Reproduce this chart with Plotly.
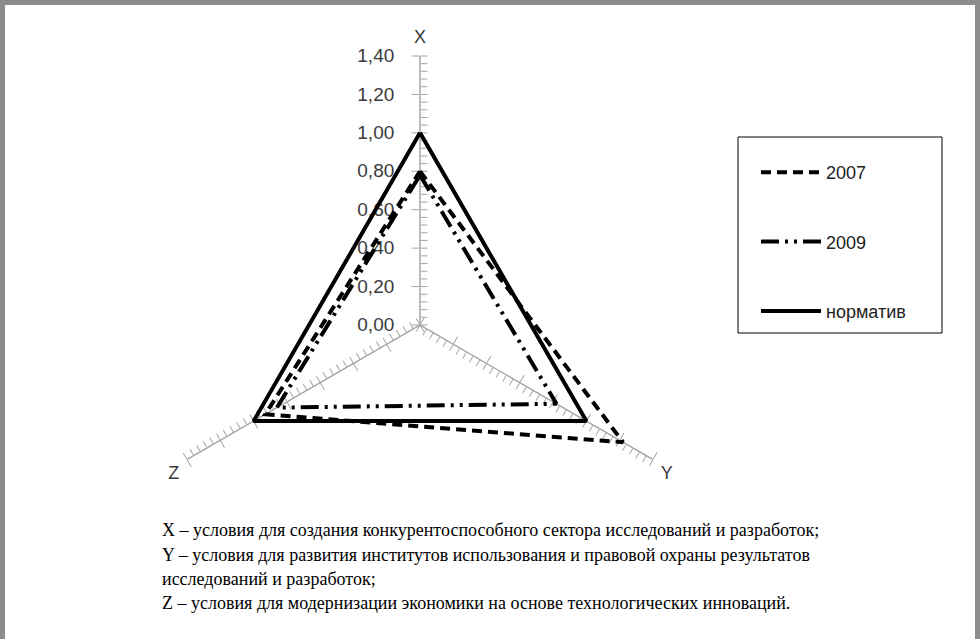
import plotly.graph_objects as go

# Radar data: three condition indices for two years plus the target level
categories = ["X", "Y", "Z"]
years = ["2007", "2009", "норматив"]
values_2007 = [0.80, 1.22, 0.93]
values_2009 = [0.78, 0.82, 0.86]
values_norm = [1.00, 1.00, 1.00]

major_ticks = [0.0, 0.2, 0.4, 0.6, 0.8, 1.0, 1.2, 1.4]
minor_ticks = [round(i * 0.04, 2) for i in range(36)]
# decimal-comma labels with a little right padding away from the spoke
major_labels = [f"{v:.2f}".replace(".", ",") + "\u00a0\u00a0" for v in major_ticks]

notes = [
    "X – условия для создания конкурентоспособного сектора исследований и разработок;",
    "Y – условия для развития институтов использования и правовой охраны результатов",
    "исследований и разработок;",
    "Z – условия для модернизации экономики на основе технологических инноваций.",
]

W, H = 980, 639
GRAY = "#a6a6a6"
FRAME = "#8c8c8c"
FONT = "Liberation Sans"

# square domain centred on the radar origin
cx, cy, R = 420, 325, 269
dom = dict(x=[(cx - R) / W, (cx + R) / W], y=[1 - (cy + R) / H, 1 - (cy - R) / H])


def spoke(angle, tickvals, ticks, ticklen, labels=False):
    ax = dict(
        range=[0, 1.4], angle=angle, tickvals=tickvals, ticks=ticks,
        ticklen=ticklen, tickwidth=1, tickcolor=GRAY,
        showline=True, linecolor=GRAY, linewidth=1, showgrid=False,
        showticklabels=labels, side="counterclockwise",
        tickangle=90,
        tickfont=dict(family=FONT, size=19, color="#3a3a3a"),
    )
    if labels:
        ax["ticktext"] = major_labels
    return dict(
        domain=dom,
        bgcolor="rgba(0,0,0,0)",
        angularaxis=dict(visible=False, rotation=90, direction="clockwise"),
        radialaxis=ax,
    )


fig = go.Figure()

# invisible anchors so every axis overlay gets drawn
for k in ["polar", "polar2", "polar3", "polar4", "polar5"]:
    fig.add_trace(go.Scatterpolar(r=[0], theta=[0], mode="markers",
                                  marker=dict(opacity=0), showlegend=False,
                                  hoverinfo="skip", subplot=k))

series = [
    (years[0], values_2007, "10px,6px"),
    (years[1], values_2009, "18px,6px,3px,6px,3px,6px"),
    (years[2], values_norm, "solid"),
]
for name, vals, dash in series:
    fig.add_trace(go.Scatterpolar(
        r=vals + vals[:1], theta=categories + categories[:1],
        mode="lines", name=name, legendgroup=name,
        line=dict(color="black", width=4, dash=dash),
        subplot="polar6",
    ))

layout_polars = {
    "polar": spoke(-30, minor_ticks, "inside", 7),
    "polar2": spoke(-30, major_ticks, "outside", 8),
    "polar3": spoke(210, minor_ticks, "inside", 7),
    "polar4": spoke(210, major_ticks, "outside", 8),
    "polar5": spoke(90, minor_ticks, "inside", 7),
    "polar6": spoke(90, major_ticks, "outside", 8, labels=True),
}
layout_polars["polar6"]["radialaxis"]["layer"] = "below traces"
layout_polars["polar6"]["angularaxis"] = dict(
    type="category", categoryarray=categories, rotation=90,
    direction="clockwise", showline=False, showgrid=False,
    ticks="outside", ticklen=5, tickcolor="rgba(0,0,0,0)",
    tickfont=dict(family=FONT, size=18, color="#3a3a3a"),
)

shapes = [
    # white page on a gray frame
    dict(type="rect", xref="paper", yref="paper",
         x0=5 / W, x1=975 / W, y0=-0.05, y1=1 - 5 / H,
         fillcolor="white", line=dict(width=0), layer="below"),
    # top edge of the frame
    dict(type="rect", xref="paper", yref="paper",
         x0=0, x1=1, y0=1 - 5 / H, y1=1,
         fillcolor=FRAME, line=dict(width=0), layer="above"),
    # legend frame
    dict(type="rect", xref="paper", yref="paper",
         x0=738 / W, x1=942 / W, y0=1 - 333 / H, y1=1 - 137 / H,
         line=dict(color="black", width=1)),
]

note_y = [530, 555, 579, 603]
annotations = [
    dict(text=t, xref="paper", yref="paper", x=160 / W, y=1 - yy / H,
         xanchor="left", yanchor="middle", showarrow=False,
         font=dict(family="Liberation Serif", size=18, color="black"))
    for t, yy in zip(notes, note_y)
]

fig.update_layout(
    width=W, height=H,
    margin=dict(l=0, r=0, t=0, b=0),
    paper_bgcolor=FRAME, plot_bgcolor="white",
    showlegend=True,
    legend=dict(x=756 / W, y=1 - 154 / H, xanchor="left", yanchor="top",
                bgcolor="rgba(0,0,0,0)", borderwidth=0,
                font=dict(family=FONT, size=18, color="#222222"),
                itemwidth=60, tracegroupgap=43),
    shapes=shapes,
    annotations=annotations,
    **layout_polars,
)

fig.write_html("out.html", config={"displayModeBar": False})
